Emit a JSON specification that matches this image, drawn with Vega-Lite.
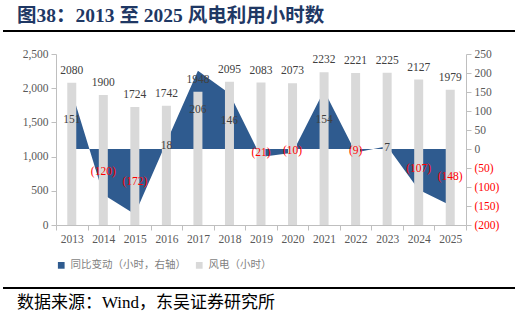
{
  "$schema": "https://vega.github.io/schema/vega-lite/v6.json",
  "background": "white",
  "padding": {"left": 2, "top": 5, "right": 5, "bottom": 5},
  "spacing": 16,
  "resolve": {"scale": {"color": "independent"}, "legend": {"color": "independent"}},
  "config": {"view": {"stroke": null}},
  "vconcat": [
    {
      "width": 410,
      "height": 1,
      "title": {"text": "图38：2013 至 2025 风电利用小时数", "anchor": "start", "dx": 15, "offset": 4, "fontSize": 19.5, "font": "Liberation Serif, Noto Sans CJK SC", "fontWeight": "bold", "color": "#1f3864"},
      "data": {"values": [{"from": 0, "to": 1, "level": 0}]},
      "mark": {"type": "rule", "color": "#000000", "strokeWidth": 2},
      "encoding": {
        "x": {"field": "from", "type": "quantitative", "scale": {"domain": [0, 1], "range": [-53, 459]}, "axis": null},
        "x2": {"field": "to"},
        "y": {"field": "level", "type": "quantitative", "scale": {"domain": [0, 1]}, "axis": null}
      }
    },
    {
      "width": 410,
      "height": 171,
      "data": {"values": [
        {"year": "2013", "hours": 2080, "change": 151},
        {"year": "2014", "hours": 1900, "change": -120},
        {"year": "2015", "hours": 1724, "change": -172},
        {"year": "2016", "hours": 1742, "change": 18},
        {"year": "2017", "hours": 1948, "change": 206},
        {"year": "2018", "hours": 2095, "change": 146},
        {"year": "2019", "hours": 2083, "change": -21},
        {"year": "2020", "hours": 2073, "change": -10},
        {"year": "2021", "hours": 2232, "change": 154},
        {"year": "2022", "hours": 2221, "change": -9},
        {"year": "2023", "hours": 2225, "change": 7},
        {"year": "2024", "hours": 2127, "change": -107},
        {"year": "2025", "hours": 1979, "change": -148}
      ]},
      "encoding": {
        "x": {"field": "year", "type": "ordinal", "scale": {"paddingInner": 0, "paddingOuter": 0},
          "axis": {"title": null, "labelAngle": 0, "tickBand": "extent", "domainColor": "#bfbfbf", "tickColor": "#bfbfbf", "tickSize": 5, "labelPadding": 3, "labelFontSize": 11.5, "labelColor": "#595959", "labelFont": "Liberation Serif", "grid": false}}
      },
      "layer": [
        {
          "mark": {"type": "area", "interpolate": "linear"},
          "encoding": {
            "y": {"field": "change", "type": "quantitative", "scale": {"domain": [-200, 250], "nice": false, "zero": false},
              "axis": {"orient": "right", "title": null, "values": [-200, -150, -100, -50, 0, 50, 100, 150, 200, 250], "format": "(d", "labelColor": {"condition": {"test": "datum.value < 0", "value": "#ff0000"}, "value": "#595959"}, "grid": false, "domainColor": "#bfbfbf", "tickColor": "#bfbfbf", "tickSize": 5, "labelPadding": 3, "labelFont": "Liberation Serif", "labelFontSize": 11.5}},
            "y2": {"datum": 0},
            "color": {"datum": "同比变动（小时，右轴）", "type": "nominal",
              "scale": {"domain": ["同比变动（小时，右轴）", "风电（小时）"], "range": ["#2f5b8f", "#d9d9d9"]},
              "legend": {"title": null, "orient": "bottom", "direction": "horizontal", "symbolType": "square", "symbolSize": 45, "symbolStrokeWidth": 0, "labelFont": "Noto Sans CJK SC", "labelFontSize": 10.5, "labelColor": "#7f7f7f", "columnPadding": 8, "offset": 15}}
          }
        },
        {
          "mark": {"type": "bar", "size": 9},
          "encoding": {
            "y": {"field": "hours", "type": "quantitative", "scale": {"domain": [0, 2500], "nice": false},
              "axis": {"orient": "left", "title": null, "values": [0, 500, 1000, 1500, 2000, 2500], "format": ",d", "labelColor": "#595959", "grid": false, "domainColor": "#bfbfbf", "tickColor": "#bfbfbf", "tickSize": 5, "labelPadding": 3, "labelFont": "Liberation Serif", "labelFontSize": 11.5}},
            "color": {"datum": "风电（小时）", "type": "nominal"}
          }
        },
        {
          "mark": {"type": "text", "baseline": "alphabetic", "dy": -9, "font": "Liberation Serif", "fontSize": 11.5, "color": "#404040"},
          "encoding": {
            "y": {"field": "hours", "type": "quantitative", "scale": {"domain": [0, 2500], "nice": false}, "axis": null},
            "text": {"field": "hours", "type": "quantitative", "format": "d"}
          }
        },
        {
          "mark": {"type": "text", "baseline": "middle", "font": "Liberation Serif", "fontSize": 11.5},
          "encoding": {
            "y": {"field": "change", "type": "quantitative", "scale": {"domain": [-400, 500], "nice": false, "zero": false}, "axis": null},
            "text": {"field": "change", "type": "quantitative", "format": "(d"},
            "color": {"condition": {"test": "datum.change < 0", "value": "#ff0000"}, "value": "#404040"}
          }
        }
      ],
      "resolve": {"scale": {"y": "independent"}}
    },
    {
      "width": 410,
      "height": 1,
      "title": {"text": "数据来源：Wind，东吴证券研究所", "orient": "bottom", "anchor": "start", "dx": 15, "offset": 6, "fontSize": 17, "fontWeight": "normal", "font": "Liberation Serif, Noto Sans CJK SC", "color": "#000000"},
      "data": {"values": [{"from": 0, "to": 1, "level": 1}]},
      "mark": {"type": "rule", "color": "#000000", "strokeWidth": 2},
      "encoding": {
        "x": {"field": "from", "type": "quantitative", "scale": {"domain": [0, 1], "range": [-53, 459]}, "axis": null},
        "x2": {"field": "to"},
        "y": {"field": "level", "type": "quantitative", "scale": {"domain": [0, 1]}, "axis": null}
      }
    }
  ]
}
